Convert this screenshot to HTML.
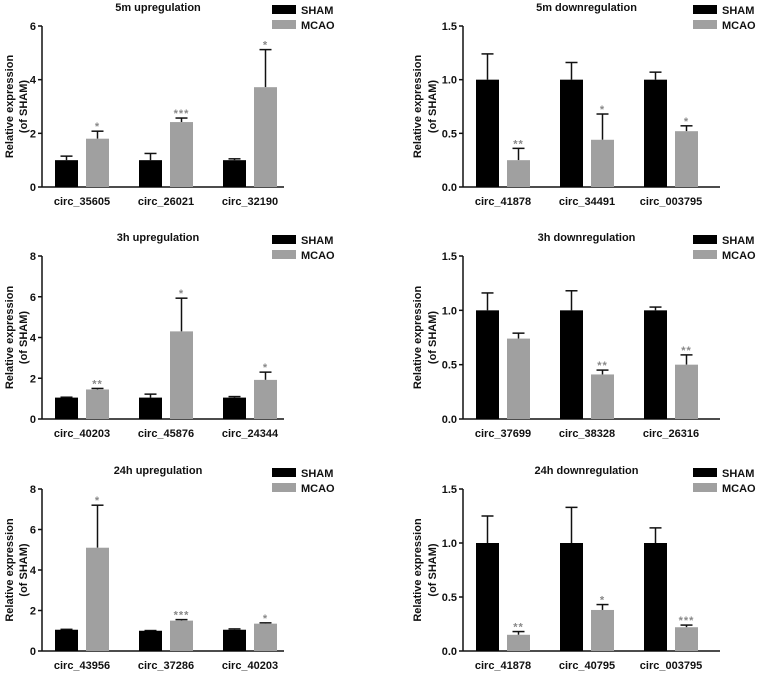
<!DOCTYPE html>
<html><head><meta charset="utf-8"><style>
body{margin:0;background:#fff;}
svg text{font-family:"Liberation Sans",Arial,sans-serif;font-weight:bold;fill:#111;}
</style></head><body>
<svg id="fig" width="758" height="673" viewBox="0 0 758 673"></svg>
<script>
const titles=["5m upregulation","5m downregulation","3h upregulation","3h downregulation","24h upregulation","24h downregulation"];
const cats=[["circ_35605","circ_26021","circ_32190"],["circ_41878","circ_34491","circ_003795"],["circ_40203","circ_45876","circ_24344"],["circ_37699","circ_38328","circ_26316"],["circ_43956","circ_37286","circ_40203"],["circ_41878","circ_40795","circ_003795"]];
const shamVals=[[1,1,1],[1,1,1],[1.05,1.05,1.05],[1,1,1],[1.05,1.0,1.05],[1,1,1]];
const shamErr=[[0.15,0.25,0.05],[0.24,0.16,0.07],[0.02,0.17,0.05],[0.16,0.18,0.03],[0.02,0.01,0.04],[0.25,0.33,0.14]];
const mcaoVals=[[1.8,2.42,3.72],[0.25,0.44,0.52],[1.45,4.3,1.92],[0.74,0.41,0.5],[5.1,1.5,1.35],[0.15,0.38,0.22]];
const mcaoErr=[[0.28,0.15,1.4],[0.11,0.24,0.05],[0.05,1.63,0.38],[0.05,0.04,0.09],[2.1,0.05,0.04],[0.03,0.05,0.02]];
const stars=[["*","***","*"],["**","*","*"],["**","*","*"],["","**","**"],["*","***","*"],["**","*","***"]];
const yMax=[6,1.5,8,1.5,8,1.5];
const yTicks=[["0","2","4","6"],["0.0","0.5","1.0","1.5"],["0","2","4","6","8"],["0.0","0.5","1.0","1.5"],["0","2","4","6","8"],["0.0","0.5","1.0","1.5"]];
const legendLabels=["SHAM","MCAO"];
const svg=document.getElementById('fig');
const NS="http://www.w3.org/2000/svg";
function mk(tag,attrs,parent,txt){const e=document.createElementNS(NS,tag);for(const k in attrs)e.setAttribute(k,attrs[k]);if(txt!==undefined)e.textContent=txt;parent.appendChild(e);return e;}
const rowTop=[26,256,489],rowBot=[187,419,651];
const colX=[42,463],colEnd=[284,720];
const titleX=[[13,27],[421,436]];
for(let p=0;p<6;p++){
  const r=Math.floor(p/2),c=p%2;
  const g=mk('g',{},svg);
  
  
  const x0=colX[c],x1=colEnd[c],yT=rowTop[r],yB=rowBot[r];
  const ys=v=>yB-(v/yMax[p])*(yB-yT);
  const t=mk('text',{x:(x0+x1)/2-5,y:yT-15,'font-size':11,'text-anchor':'middle'},g,titles[p]);
  
  const ya=mk('line',{x1:x0,y1:yT,x2:x0,y2:yB,stroke:'#111','stroke-width':1.5},g);
  
  const xa=mk('line',{x1:x0,y1:yB,x2:x1,y2:yB,stroke:'#111','stroke-width':1.5},g);
  
  yTicks[p].forEach(l=>{const v=parseFloat(l);const y=ys(v);
    mk('line',{x1:x0-4,y1:y,x2:x0,y2:y,stroke:'#111','stroke-width':1.5},g);
    const tl=mk('text',{x:x0-6,y:y+4,'font-size':11,'text-anchor':'end'},g,l);
    });
  const yc=(yT+yB)/2;
  const yt=mk('text',{transform:`translate(${titleX[c][0]},${yc}) rotate(-90)`,'font-size':11,'text-anchor':'middle'},g,'Relative expression');
  
  mk('text',{transform:`translate(${titleX[c][1]},${yc}) rotate(-90)`,'font-size':11,'text-anchor':'middle'},g,'(of SHAM)');
  for(let i=0;i<3;i++){
    const sx=x0+13+i*84, mx=sx+31, w=23;
    [[sx,shamVals[p][i],shamErr[p][i],'#000','sham'],[mx,mcaoVals[p][i],mcaoErr[p][i],'#a0a0a0','mcao']].forEach(([bx,v,e,col,nm])=>{
      const ex=bx+w/2, ye=ys(v+e);
      mk('line',{x1:ex,y1:ys(v),x2:ex,y2:ye,stroke:'#111','stroke-width':1.5},g);
      mk('line',{x1:ex-6,y1:ye,x2:ex+6,y2:ye,stroke:'#111','stroke-width':1.5},g);
      const b=mk('rect',{x:bx,y:ys(v),width:w,height:yB-ys(v),fill:col},g);
      
    });
    if(stars[p][i]){const st=mk('text',{x:mx+w/2,y:ys(mcaoVals[p][i]+mcaoErr[p][i])-1,'font-size':11,'text-anchor':'middle',style:'fill:#888','letter-spacing':'1'},g,stars[p][i]);
      }
    const xl=mk('text',{x:sx+27,y:yB+18,'font-size':11,'text-anchor':'middle'},g,cats[p][i]);
    
  }
  const lx=c?693:272, ly=yT-21;
  legendLabels.forEach((l,k)=>{
    const lg=mk('g',{},g);
    
    mk('rect',{x:lx,y:ly+k*15,width:24,height:9,fill:k?'#a0a0a0':'#000'},lg);
    mk('text',{x:lx+29,y:ly+k*15+9,'font-size':11},lg,l);
  });
}
</script>
</body></html>
